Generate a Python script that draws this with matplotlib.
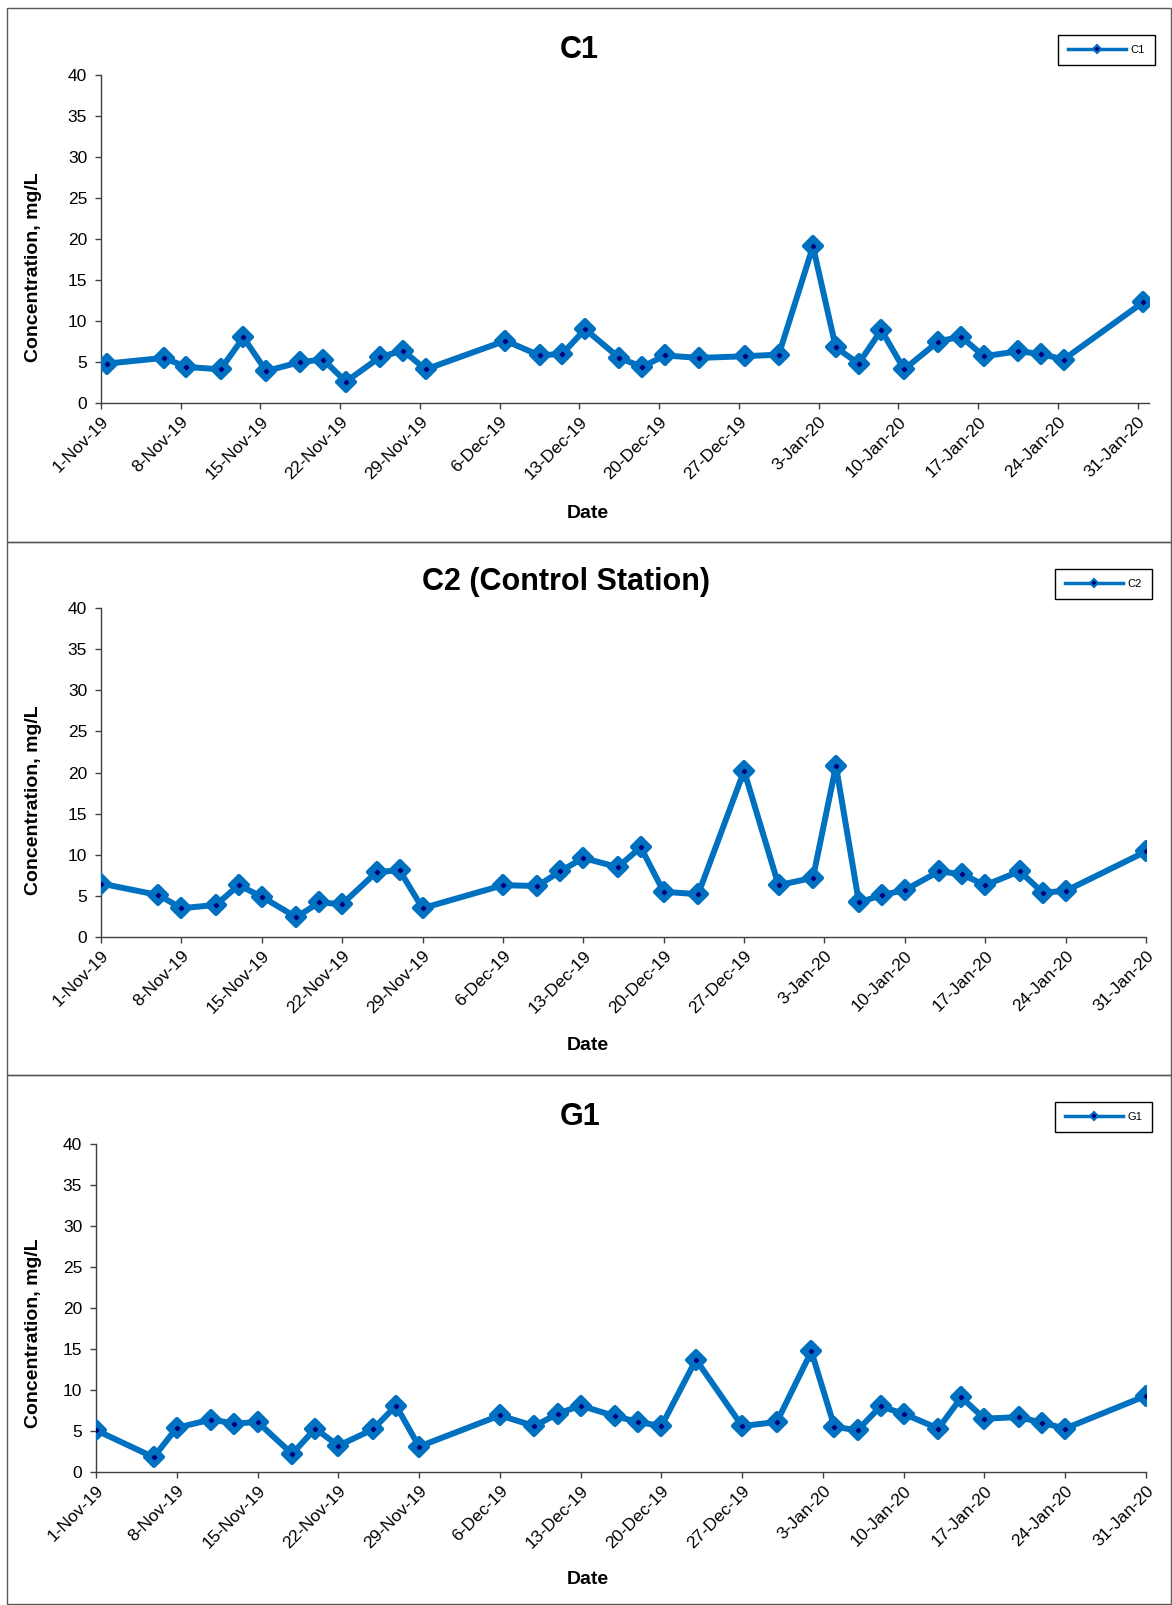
import datetime

import matplotlib
matplotlib.use('Agg')
import matplotlib.pyplot as plt
from matplotlib.lines import Line2D
from matplotlib.markers import MarkerStyle
from matplotlib.patches import Rectangle
from matplotlib.transforms import ScaledTranslation

plt.rcParams['font.family'] = ['Liberation Sans', 'DejaVu Sans']

# sampling days (same for all three stations)
sample_days = ['2019-11-01', '2019-11-06', '2019-11-08', '2019-11-11', '2019-11-13', '2019-11-15',
               '2019-11-18', '2019-11-20', '2019-11-22', '2019-11-25', '2019-11-27', '2019-11-29',
               '2019-12-06', '2019-12-09', '2019-12-11', '2019-12-13', '2019-12-16', '2019-12-18',
               '2019-12-20', '2019-12-23', '2019-12-27', '2019-12-30',
               '2020-01-02', '2020-01-04', '2020-01-06', '2020-01-08', '2020-01-10', '2020-01-13',
               '2020-01-15', '2020-01-17', '2020-01-20', '2020-01-22', '2020-01-24', '2020-01-31']

c1_values = [4.8, 5.5, 4.4, 4.1, 8.0, 3.9, 5.0, 5.3, 2.6, 5.6, 6.4, 4.1,
             7.6, 5.8, 6.0, 9.0, 5.5, 4.4, 5.8, 5.5, 5.7, 5.9,
             19.1, 6.8, 4.8, 8.9, 4.1, 7.5, 8.1, 5.7, 6.3, 6.0, 5.3, 12.3]

c2_values = [6.5, 5.1, 3.5, 3.9, 6.3, 4.9, 2.4, 4.2, 4.0, 7.9, 8.1, 3.5,
             6.3, 6.2, 8.0, 9.6, 8.5, 10.9, 5.5, 5.2, 20.2, 6.3,
             7.2, 20.8, 4.2, 5.1, 5.7, 8.0, 7.6, 6.3, 8.0, 5.4, 5.6, 10.4]

g1_values = [5.1, 1.8, 5.4, 6.4, 5.9, 6.1, 2.2, 5.3, 3.2, 5.2, 8.1, 3.1,
             6.9, 5.6, 7.1, 8.1, 6.8, 6.1, 5.6, 13.7, 5.6, 6.1,
             14.7, 5.5, 5.1, 8.0, 7.1, 5.3, 9.1, 6.5, 6.7, 6.0, 5.3, 9.3]

y_ticks = [0, 5, 10, 15, 20, 25, 30, 35, 40]
first_tick = '2019-11-01'
tick_count = 14  # weekly ticks, 1-Nov-19 .. 31-Jan-20

W, H = 1172, 1605
LINE_BLUE = '#0070C0'
DOT_NAVY = '#00007F'
AXIS_GREY = '#404040'


def px_rect(left, right, top, bottom):
    return [left / W, 1 - bottom / H, (right - left) / W, (bottom - top) / H]


def to_date(s):
    return datetime.datetime.strptime(s, '%Y-%m-%d')


def date_label(d):
    return f"{d.day}-{d.strftime('%b-%y')}"


# layout of each panel in pixels: frame top/bottom, plot area, title, labels, legend
panels = [
    dict(title='C1', name='C1', values=c1_values, shift=0.5, x_end='2020-02-01',
         frame=(8, 542), plot=(101, 1149, 75, 403), title_xy=(579, 50),
         ylabel_y=267, date_y=513, legend=(1059, 1155, 35, 63)),
    dict(title='C2 (Control Station)', name='C2', values=c2_values, shift=0.0, x_end='2020-01-31',
         frame=(542, 1075), plot=(101, 1146, 608, 937), title_xy=(566, 582),
         ylabel_y=800, date_y=1046, legend=(1059, 1152, 569, 602)),
    dict(title='G1', name='G1', values=g1_values, shift=0.0, x_end='2020-01-31',
         frame=(1075, 1604), plot=(96, 1146, 1144, 1472), title_xy=(580, 1117),
         ylabel_y=1333, date_y=1580, legend=(1059, 1152, 1102, 1135)),
]


def draw_panel(fig, p):
    top, bottom = p['frame']
    fig.add_artist(Rectangle((6.5 / W, 1 - bottom / H), (W - 7.5) / W, (bottom - top) / H,
                             transform=fig.transFigure, fill=False, edgecolor='#595959', linewidth=1))

    ax = fig.add_axes(px_rect(*p['plot']))
    days = [to_date(d) + datetime.timedelta(days=p['shift']) for d in sample_days]
    diamond = MarkerStyle('D', joinstyle='round')
    ax.plot(days, p['values'], color=LINE_BLUE, linewidth=4.3, marker=diamond, markersize=9.5,
            markerfacecolor=LINE_BLUE, markeredgecolor=LINE_BLUE, markeredgewidth=3, zorder=3)
    ax.plot(days, p['values'], linestyle='none', marker='D', markersize=2.2,
            color=DOT_NAVY, zorder=4)

    start = to_date(first_tick)
    ticks = [start + datetime.timedelta(days=7 * i) for i in range(tick_count)]
    ax.set_xlim(start, to_date(p['x_end']))
    ax.set_ylim(0, 40)
    ax.set_yticks(y_ticks)
    ax.set_xticks(ticks)
    ax.set_xticklabels([date_label(t) for t in ticks], rotation=45, ha='right',
                       rotation_mode='anchor')
    offset = ScaledTranslation(6 / 72, 0, fig.dpi_scale_trans)
    for lbl in ax.get_xticklabels():
        lbl.set_transform(lbl.get_transform() + offset)

    for side in ['top', 'right']:
        ax.spines[side].set_visible(False)
    for side in ['left', 'bottom']:
        ax.spines[side].set_color(AXIS_GREY)
        ax.spines[side].set_linewidth(1)
    ax.tick_params(axis='both', direction='out', length=4, width=1, color=AXIS_GREY,
                   labelsize=12.5, labelcolor='black')
    ax.tick_params(axis='y', pad=6)
    ax.tick_params(axis='x', pad=4)

    tx, ty = p['title_xy']
    fig.text(tx / W, 1 - ty / H, p['title'], ha='center', va='center',
             fontsize=22, fontweight='bold')
    fig.text(34 / W, 1 - p['ylabel_y'] / H, 'Concentration, mg/L', rotation=90,
             ha='center', va='center', fontsize=14, fontweight='bold')
    fig.text(588 / W, 1 - p['date_y'] / H, 'Date', ha='center', va='center',
             fontsize=14, fontweight='bold')

    # legend box
    l, r, t, b = p['legend']
    handle = Line2D([], [], color=LINE_BLUE, linewidth=2.5, marker='D', markersize=4,
                    markerfacecolor=DOT_NAVY, markeredgecolor=LINE_BLUE, markeredgewidth=1.5)
    leg = fig.legend([handle], [p['name']], loc='upper right',
                     bbox_to_anchor=(r / W, 1 - t / H), fontsize=8, handlelength=5.2,
                     handletextpad=0.4, borderpad=0.9, fancybox=False, framealpha=1,
                     edgecolor='black', borderaxespad=0)
    leg.get_frame().set_linewidth(1)
    return ax


def main():
    fig = plt.figure(figsize=(W / 100, H / 100), dpi=100)
    for p in panels:
        draw_panel(fig, p)
    fig.savefig('out.png', dpi=100)


if __name__ == '__main__':
    main()
